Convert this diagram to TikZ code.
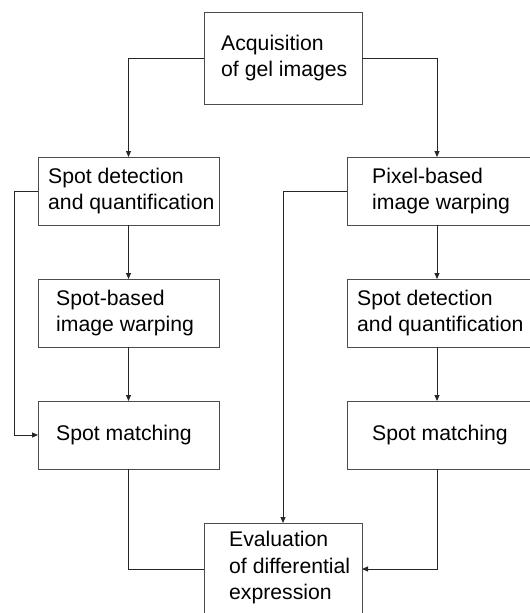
\documentclass[tikz,border=0pt]{standalone}
\usepackage{fontspec}
\setmainfont{Liberation Sans}
\usetikzlibrary{arrows.meta}
\begin{document}
\begin{tikzpicture}[x=1pt,y=-1pt,
  box/.style={draw=black!70, line width=0.9pt, minimum width=#1, inner sep=0pt, outer sep=0pt},
  box/.default=181pt,
  txt/.style={anchor=west, align=left, inner sep=0pt, font=\fontsize{21.2}{26}\selectfont},
  conn/.style={draw=black!85, line width=0.9pt},
  arr/.style={conn, -{Triangle[length=6pt,width=5pt]}}]
\useasboundingbox (0,0) rectangle (530,613);
\clip (0,0) rectangle (530,613);
% boxes
\node[box=158pt, minimum height=92pt] (top) at (283,58) {};
\node[box, minimum height=68pt] (L1) at (128.5,191) {};
\node[box, minimum height=68pt] (L2) at (128.5,313) {};
\node[box, minimum height=68pt] (L3) at (128.5,435) {};
\node[box=193pt, minimum height=68pt] (R1) at (443.5,191) {};
\node[box=193pt, minimum height=68pt] (R2) at (443.5,313) {};
\node[box=193pt, minimum height=68pt] (R3) at (443.5,435) {};
\node[box=158pt, minimum height=104pt] (bot) at (283,575) {};
% texts
\node[txt] (ttop) at ([xshift=17pt]top.west) {Acquisition\\of gel images};
\node[txt] (tL1) at ([xshift=10pt]L1.west) {Spot detection\\and quantification};
\node[txt] (tL2) at ([xshift=18pt]L2.west) {Spot-based\\image warping};
\node[txt] (tL3) at ([xshift=18pt]L3.west) {Spot matching};
\node[txt] (tR1) at ([xshift=25pt]R1.west) {Pixel-based\\image warping};
\node[txt] (tR2) at ([xshift=10pt]R2.west) {Spot detection\\and quantification};
\node[txt] (tR3) at ([xshift=25pt]R3.west) {Spot matching};
\node[txt, font=\fontsize{21.2}{26.5}\selectfont] (tbot) at ([xshift=25pt,yshift=7pt]bot.west) {Evaluation\\of differential\\expression};
% connectors
\coordinate (lb) at (14,191);
\coordinate (rb) at (283,191);
\coordinate (botw) at ([yshift=6pt]bot.west);
\coordinate (bote) at ([yshift=6pt]bot.east);
\coordinate (r1n) at ([xshift=-6.5pt]R1.north);
\coordinate (r1s) at ([xshift=-6.5pt]R1.south);
\coordinate (r2n) at ([xshift=-6.5pt]R2.north);
\coordinate (r2s) at ([xshift=-6.5pt]R2.south);
\coordinate (r3n) at ([xshift=-6.5pt]R3.north);
\coordinate (r3s) at ([xshift=-6.5pt]R3.south);
\draw[arr] (top.west) -| (L1.north);
\draw[arr] (top.east) -| (r1n);
\draw[arr] (L1.south) -- (L2.north);
\draw[arr] (L2.south) -- (L3.north);
\draw[arr] (r1s) -- (r2n);
\draw[arr] (r2s) -- (r3n);
\draw[arr] (L1.west) -- (lb) |- (L3.west);
\draw[arr] (R1.west) -- (rb) -- (bot.north);
\draw[conn] (L3.south) |- (botw);
\draw[arr] (r3s) |- (bote);
\end{tikzpicture}
\end{document}
